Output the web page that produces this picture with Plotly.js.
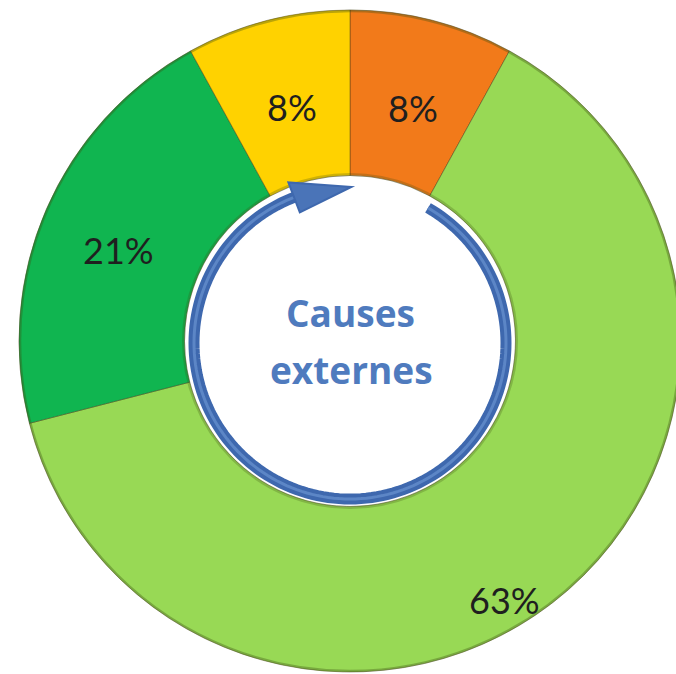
<!DOCTYPE html>
<html>
<head>
<meta charset="utf-8">
<script src="https://cdn.plot.ly/plotly-3.0.1.min.js"></script>
<style>
  html, body { margin: 0; padding: 0; background: #ffffff; overflow: hidden; }
  #wrap { width: 676px; height: 674px; overflow: hidden; }
  #chart { width: 700px; height: 674px; }
</style>
</head>
<body>
<div id="wrap"><div id="chart"></div></div>
<script>
// Data (clockwise from 12 o'clock)
const categories = ["Orange", "Vert clair", "Vert foncé", "Jaune"];
const values = [8, 63, 21, 8];
const colors = ["#F27A1A", "#98D955", "#10B550", "#FFD200"];
const centerLines = ["Causes", "externes"];

const W = 700, H = 674;
const cx = 350, cy = 341, R = 331;

// label placement (radius in px, angular nudge in degrees) — styling only
const labelRadius = [241, 302, 249, 241];
const labelNudge = [0.7, 7, -2, 0.4];

// circular arrow around the hole (decoration)
const acx = 350, acy = 343, ar = 156;
function pt(theta, r) {
  const t = theta * Math.PI / 180;
  const x = acx + r * Math.sin(t);
  const y = acy - r * Math.cos(t);
  return (x / W).toFixed(5) + "," + (1 - y / H).toFixed(5);
}
let arc = "M" + pt(30, ar);
for (let a = 32; a <= 342; a += 2) arc += " L" + pt(a, ar);
const head = "M" + pt(339, ar - 16) + " L" + pt(339, ar + 16) + " L" + pt(360.5, ar) + " Z";

// percentage labels placed at slice angles computed from the values
const total = values.reduce((s, v) => s + v, 0);
const annotations = [];
let cum = 0;
values.forEach((v, i) => {
  const mid = (cum + v / 2) / total * 360 + labelNudge[i];
  cum += v;
  const t = mid * Math.PI / 180;
  const x = cx + labelRadius[i] * Math.sin(t);
  const y = cy - labelRadius[i] * Math.cos(t);
  annotations.push({
    text: Math.round(v / total * 100) + "%",
    x: x / W, y: 1 - y / H, xref: "paper", yref: "paper",
    showarrow: false, xanchor: "center", yanchor: "middle",
    font: { family: "Lato, 'Open Sans', sans-serif", size: 36, color: "#1f1f1f" }
  });
});
annotations.push({
  text: "<b>" + centerLines[0] + "</b>", x: 350 / W, y: 1 - 312 / H,
  xref: "paper", yref: "paper", showarrow: false, xanchor: "center", yanchor: "middle",
  font: { family: "'Open Sans', Lato, sans-serif", size: 37, color: "#4F7BBE" }
});
annotations.push({
  text: "<b>" + centerLines[1] + "</b>", x: 351 / W, y: 1 - 369 / H,
  xref: "paper", yref: "paper", showarrow: false, xanchor: "center", yanchor: "middle",
  font: { family: "'Open Sans', Lato, sans-serif", size: 37, color: "#4F7BBE" }
});

const data = [{
  type: "pie",
  labels: categories,
  values: values,
  sort: false,
  direction: "clockwise",
  rotation: 0,
  hole: 0.5,
  marker: { colors: colors, line: { color: "rgba(70,60,20,0.45)", width: 1 } },
  textinfo: "none",
  showlegend: false,
  hoverinfo: "label+percent",
  domain: { x: [(cx - R) / W, (cx + R) / W], y: [(H - cy - R) / H, (H - cy + R) / H] }
}];

const layout = {
  width: W, height: H,
  margin: { l: 0, r: 0, t: 0, b: 0 },
  paper_bgcolor: "#ffffff",
  plot_bgcolor: "#ffffff",
  showlegend: false,
  shapes: [
    { type: "circle", xref: "paper", yref: "paper",
      x0: (cx - R + 1) / W, x1: (cx + R - 1) / W, y0: (H - cy - R + 1) / H, y1: (H - cy + R - 1) / H,
      line: { color: "rgba(60,80,20,0.35)", width: 2.5 }, fillcolor: "rgba(0,0,0,0)", layer: "above" },
    { type: "circle", xref: "paper", yref: "paper",
      x0: (cx - R / 2 - 1) / W, x1: (cx + R / 2 + 1) / W, y0: (H - cy - R / 2 - 1) / H, y1: (H - cy + R / 2 + 1) / H,
      line: { color: "rgba(60,80,20,0.25)", width: 3 }, fillcolor: "rgba(0,0,0,0)", layer: "above" },
    { type: "path", xref: "paper", yref: "paper", path: arc,
      line: { color: "#3E68AE", width: 11 }, fillcolor: "rgba(0,0,0,0)", layer: "above" },
    { type: "path", xref: "paper", yref: "paper", path: arc,
      line: { color: "#5C86C6", width: 3 }, fillcolor: "rgba(0,0,0,0)", layer: "above" },
    { type: "path", xref: "paper", yref: "paper", path: head,
      line: { color: "#3E68AE", width: 2 }, fillcolor: "#4A74B8", layer: "above" }
  ],
  annotations: annotations
};

Plotly.newPlot("chart", data, layout, { displayModeBar: false, staticPlot: true });
</script>
</body>
</html>
